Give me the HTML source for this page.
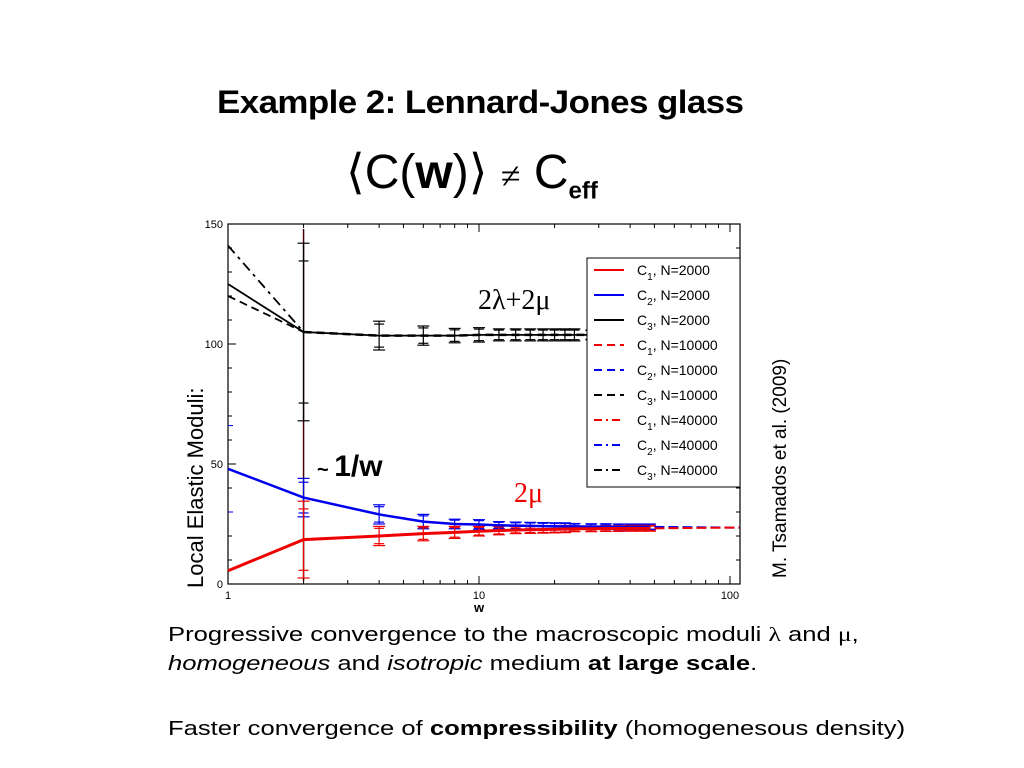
<!DOCTYPE html>
<html><head><meta charset="utf-8"><style>
body{margin:0;width:1024px;height:768px;background:#fff;overflow:hidden;font-family:"Liberation Sans",sans-serif;position:relative}
.t{position:absolute;white-space:nowrap}
.cap{font-size:20px;transform-origin:0 0;transform:scaleX(1.28)}
</style></head><body>
<div class="t" style="left:217px;top:84px;font-size:32px;font-weight:bold;letter-spacing:-0.5px;transform-origin:0 0;transform:scaleX(1.09)">Example 2: Lennard-Jones glass</div>
<div class="t" style="left:346px;top:144px;font-size:48px;font-family:'Liberation Sans',sans-serif">⟨C(<b>w</b>)⟩ <span style="font-family:'Liberation Serif',serif;font-size:36px">≠</span> C<sub style="font-size:24px;font-weight:bold">eff</sub></div>
<div class="t" style="left:183px;top:588px;font-size:22px;transform-origin:0 0;transform:rotate(-90deg)">Local Elastic Moduli:</div>
<div class="t" style="left:770px;top:578px;font-size:19px;transform-origin:0 0;transform:rotate(-90deg)">M. Tsamados et al. (2009)</div>
<div class="t cap" style="left:168px;top:624px">Progressive convergence to the macroscopic moduli <span style="font-family:'Liberation Serif',serif">λ</span> and <span style="font-family:'Liberation Serif',serif">μ</span>,</div>
<div class="t cap" style="left:168px;top:653px"><i>homogeneous</i> and <i>isotropic</i> medium <b>at large scale</b>.</div>
<div class="t cap" style="left:168px;top:718px">Faster convergence of <b>compressibility</b> (homogenesous density)</div>
<svg id="chart" width="1024" height="768" style="position:absolute;left:0;top:0" font-family="Liberation Sans, sans-serif"></svg>
<script>
const wVals=[1,2,4,6,8,10,12,14,16,18,20,22,24,28,32,36,40,44,48];
const c3Vals=[125,105,103.5,103.5,103.5,103.8,103.8,103.8,103.8,103.8,103.8,103.8,103.8,103.8,103.8,103.8,103.8,103.8,103.8];
const c3dash1=[120,104,121];
const c3dashdot1=141;
const c2Vals=[48,36,29,26,25,24.8,24.5,24.3,24.2,24.1,24,24,24,23.9,23.9,23.8,23.8,23.8,23.8];
const c1Vals=[5.5,18.5,20,21,21.5,22,22.3,22.5,22.6,22.7,22.8,22.9,23,23,23.1,23.1,23.2,23.2,23.2];
const errC3=[0,37,6,4,3,3,2.5,2.5,2.5,2.5,2.5,2.5,2.5,2,2,2,2,2,2];
const errC2=[0,8,4,3,2,2,1.5,1.5,1.5,1.5,1.5,1.5,1.2,1.2,1.2,1.2,1.2,1.2,1.2];
const errC1=[0,16,4,3,2.5,2,1.8,1.5,1.5,1.5,1.5,1.5,1.2,1.2,1.2,1.2,1.2,1.2,1.2];
const tailW=[50,100,109];
const tailC2=[23.8,23.5,23.5];
const tailC1=[23.2,23.5,23.5];
const yTicks=[0,50,100,150];
const xTicks=[1,10,100];
const legendLabels=[["1","2000"],["2","2000"],["3","2000"],["1","10000"],["2","10000"],["3","10000"],["1","40000"],["2","40000"],["3","40000"]];
const legendColors=["#e00","#00e","#000","#e00","#00e","#000","#e00","#00e","#000"];
const legendDash=["","","","8,5","8,5","8,5","8,4,2,4","8,4,2,4","8,4,2,4"];
const L=228,R=740,T=224,B=584;
const X=w=>L+Math.log10(w)*251;
const Y=v=>B-v*2.4;
const svg=document.getElementById('chart');
const NS='http://www.w3.org/2000/svg';
function mk(tag,attrs,parent){const e=document.createElementNS(NS,tag);for(const k in attrs)e.setAttribute(k,attrs[k]);(parent||svg).appendChild(e);return e;}
const frame=mk('rect',{x:L,y:T,width:R-L,height:B-T,fill:'none',stroke:'#000','stroke-width':1.2});


for(let v=0;v<=150;v+=10){const len=v%50===0?8:4;mk('line',{x1:L,x2:L+len,y1:Y(v),y2:Y(v),stroke:'#000'});mk('line',{x1:R,x2:R-len,y1:Y(v),y2:Y(v),stroke:'#000'});}
yTicks.forEach(v=>{const t=mk('text',{x:L-5,y:Y(v)+4,'text-anchor':'end','font-size':11});t.textContent=v;

});
for(let d=1;d<=100;d*=10)for(let k=1;k<10;k++){const w=d*k;if(w>109)break;const len=k===1?8:4;mk('line',{x1:X(w),x2:X(w),y1:B,y2:B-len,stroke:'#000'});mk('line',{x1:X(w),x2:X(w),y1:T,y2:T+len,stroke:'#000'});}
xTicks.forEach(w=>{const t=mk('text',{x:X(w),y:B+15,'text-anchor':'middle','font-size':11});t.textContent=w;

});
const xt=mk('text',{x:X(10),y:B+28,'text-anchor':'middle','font-size':13,'font-weight':'bold'});xt.textContent='w';


mk('line',{x1:L,x2:L+5,y1:Y(66),y2:Y(66),stroke:'#00e'});mk('line',{x1:L,x2:L+5,y1:Y(30),y2:Y(30),stroke:'#00e'});
function series(vals,xs,color,dash,name,width){const d=vals.map((v,i)=>(i?'L':'M')+X(xs[i])+','+Y(v)).join('');const p=mk('path',{d,fill:'none',stroke:color,'stroke-width':width||2,'stroke-dasharray':dash});

}
function errs(vals,e,color,name){vals.forEach((v,i)=>{if(!e[i])return;const x=X(wVals[i]);const g=mk('g',{stroke:color,'stroke-width':1.2});


mk('line',{x1:x,x2:x,y1:Y(v-e[i]),y2:Y(v+e[i])},g);mk('line',{x1:x-6,x2:x+6,y1:Y(v-e[i]),y2:Y(v-e[i])},g);mk('line',{x1:x-6,x2:x+6,y1:Y(v+e[i]),y2:Y(v+e[i])},g);mk('line',{x1:x-5,x2:x+5,y1:Y(v-e[i]*0.8),y2:Y(v-e[i]*0.8)},g);mk('line',{x1:x-5,x2:x+5,y1:Y(v+e[i]*0.8),y2:Y(v+e[i]*0.8)},g);});}
mk('line',{x1:X(2),x2:X(2),y1:T+5,y2:B-3,stroke:'#400','stroke-width':1.5});
errs(c3Vals,errC3,'#000','error-bar-c3');
errs(c2Vals,errC2,'#00e','error-bar-c2');
errs(c1Vals,errC1,'#e00','error-bar-c1');
series(c3Vals,wVals,'#000','','line-c3-n2000',1.8);
series([c3dash1[0],c3Vals[1]],[1,2],'#000','8,5','line-c3-n10000',1.8);
series([c3dashdot1,c3Vals[1]],[1,2],'#000','10,5,3,5','line-c3-n40000',1.8);
series(c3Vals.slice(1),wVals.slice(1),'#000','8,5','line-c3-dash',2.5);
series(c2Vals,wVals,'#00e','','line-c2-n2000',2.5);
series(c1Vals,wVals,'#e00','','line-c1-n2000',3);
series(tailC2,tailW,'#00e','10,4','line-c2-n40000',2);
series(tailC1,tailW,'#e00','10,4','line-c1-n40000',2);
const a1=mk('text',{x:478,y:309,'font-size':28,'font-family':'Liberation Serif, serif'});a1.textContent='2λ+2μ';


const a2=mk('text',{x:514,y:502,'font-size':28,fill:'#e00','font-family':'Liberation Serif, serif'});a2.textContent='2μ';


const a3=mk('text',{x:317,y:476,'font-size':30,'font-weight':'bold'});a3.innerHTML='<tspan font-size="20">~ </tspan>1/w';


const lg=mk('g',{});


mk('rect',{x:587,y:258,width:153,height:229,fill:'#fff',stroke:'#000'},lg);
legendLabels.forEach((lb,i)=>{const y=270+i*25;const e=mk('g',{},lg);


mk('line',{x1:594,x2:624,y1:y,y2:y,stroke:legendColors[i],'stroke-width':2,'stroke-dasharray':legendDash[i]},e);
const t=mk('text',{x:637,y:y+5,'font-size':14},e);t.innerHTML='C<tspan font-size="10" dy="5">'+lb[0]+'</tspan><tspan dy="-5">, N='+lb[1]+'</tspan>';});
</script>
</body></html>
